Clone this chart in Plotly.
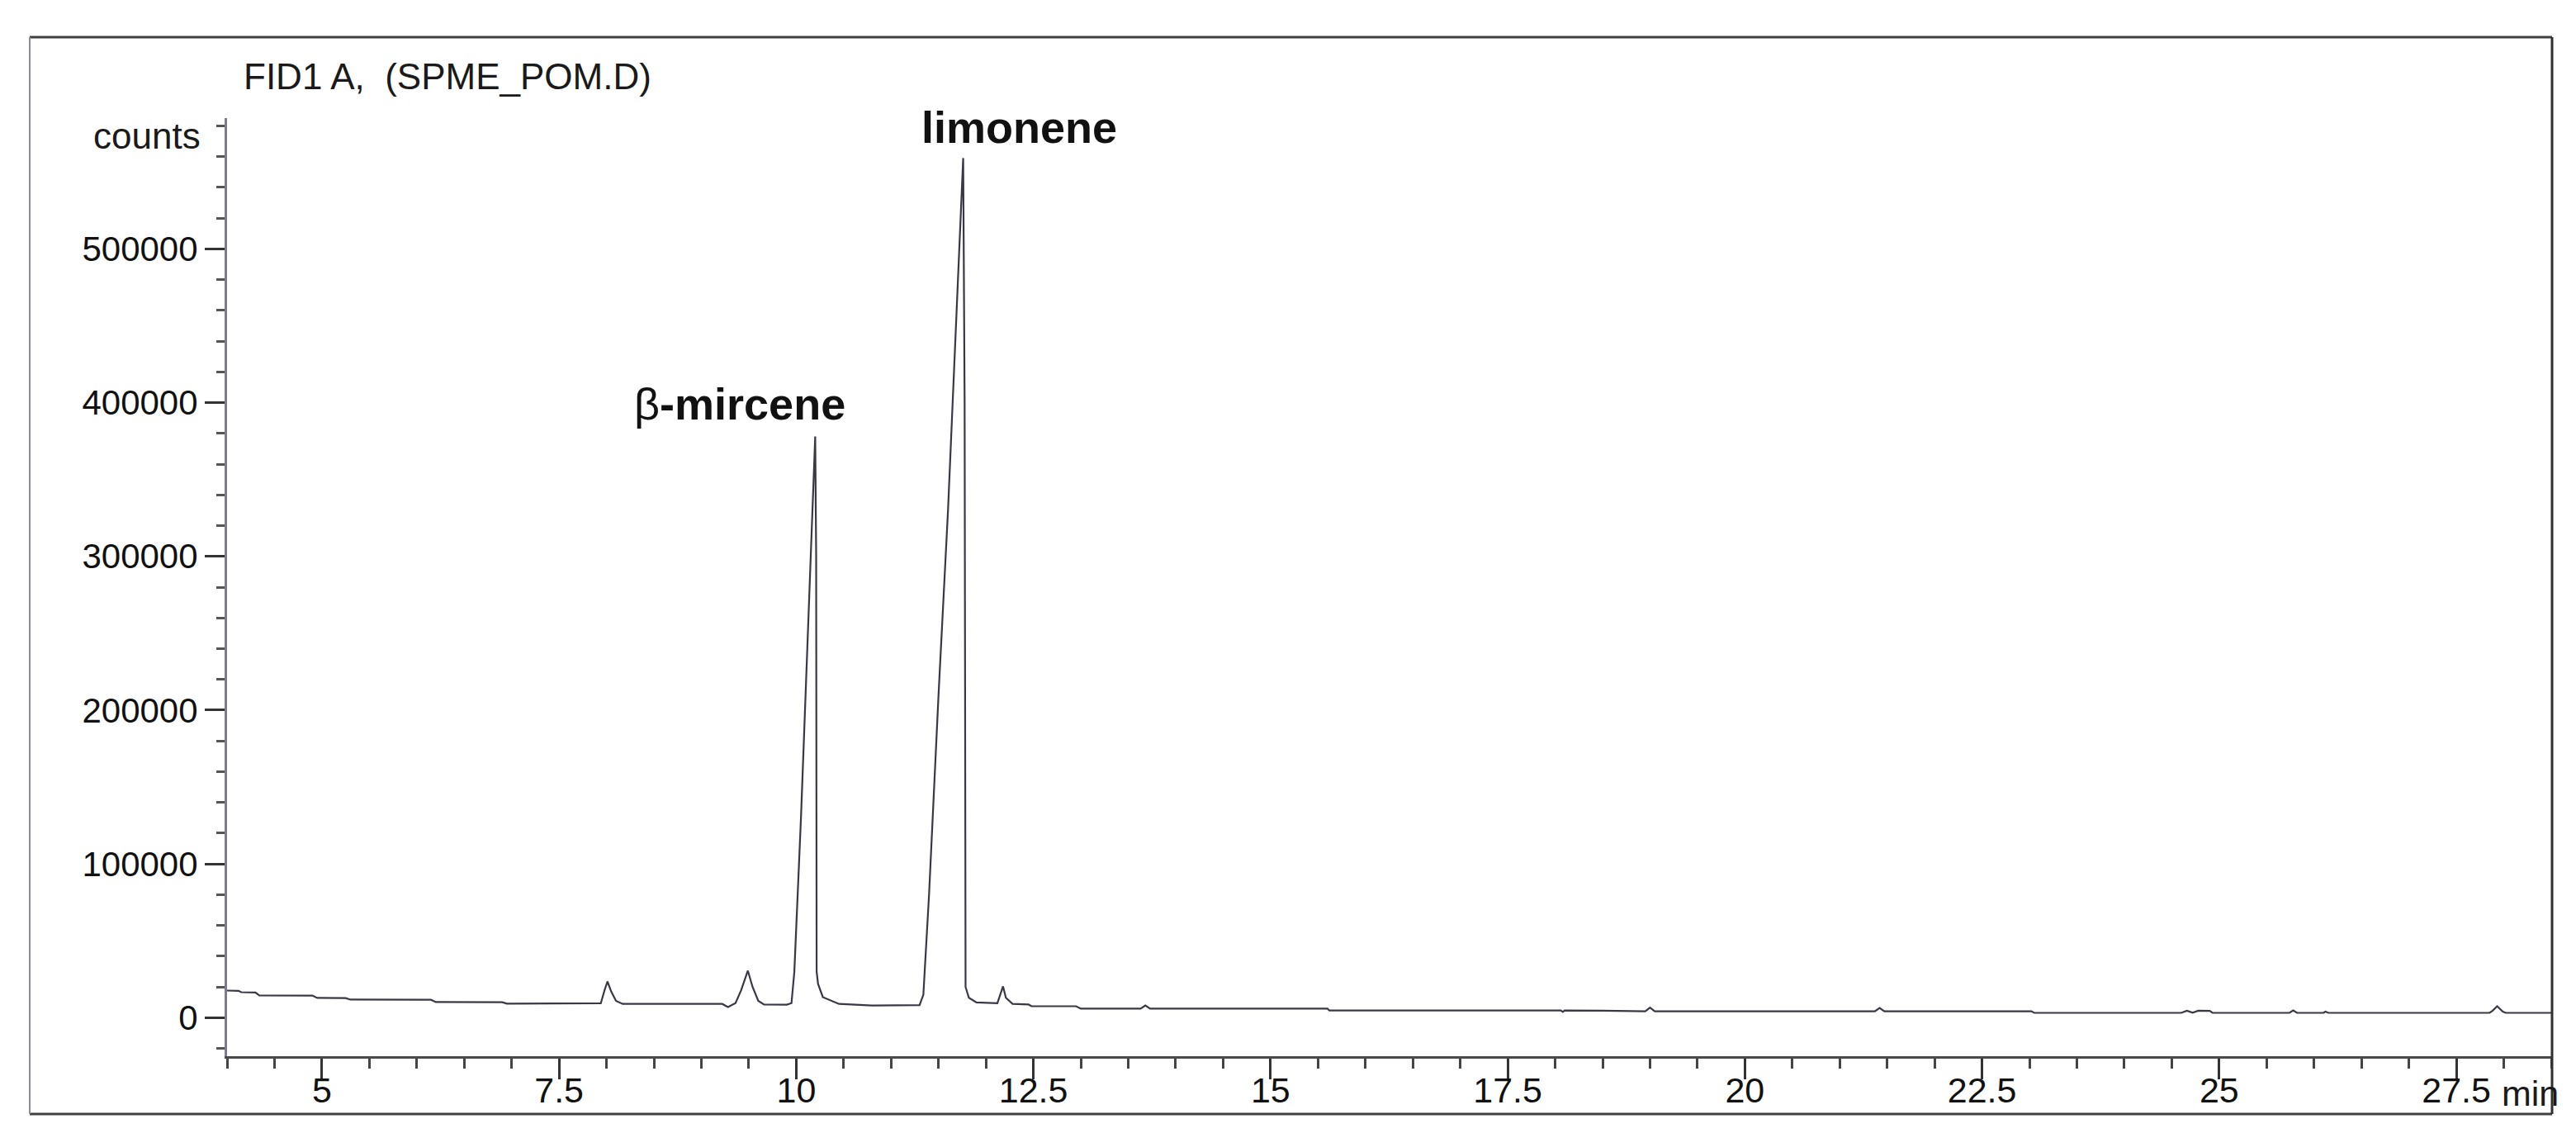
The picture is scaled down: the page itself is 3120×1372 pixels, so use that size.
import plotly.graph_objects as go

# retention time (min) and detector signal (counts)
time_min = [
    4.00, 4.12, 4.15, 4.30, 4.34, 4.90, 4.95, 5.25, 5.30, 6.15, 6.20, 6.90, 6.95,
    7.90, 7.94, 7.98, 8.01, 8.05, 8.10, 8.17, 9.22, 9.28, 9.36, 9.42, 9.49, 9.54,
    9.60, 9.66, 9.90, 9.95, 9.98, 10.05, 10.12, 10.17, 10.20, 10.21, 10.215, 10.23,
    10.28, 10.45, 10.80, 11.30, 11.34, 11.40, 11.50, 11.60, 11.68, 11.76, 11.775,
    11.785, 11.82, 11.90, 12.12, 12.15, 12.18, 12.21, 12.28, 12.45, 12.48, 12.95,
    13.00, 13.63, 13.68, 13.73, 15.60, 15.62, 18.06, 18.08, 18.10, 18.50, 18.95,
    19.00, 19.05, 21.37, 21.42, 21.47, 23.02, 23.05, 24.60, 24.66, 24.72, 24.78,
    24.90, 24.93, 25.74, 25.78, 25.82, 26.10, 26.12, 26.15, 27.85, 27.88, 27.93,
    27.99, 28.02, 28.50,
]
counts = [
    17700, 17500, 16600, 16400, 14500, 14400, 12900, 12800, 11800, 11700, 10200, 10100, 9200,
    9100, 9400, 18000, 23600, 17000, 11000, 9000, 9000, 7000, 9500, 18000, 30600, 20000,
    11000, 8600, 8500, 9500, 30000, 130000, 250000, 330000, 378000, 300000, 30000, 22000,
    13400, 9000, 8000, 8200, 15000, 80000, 210000, 330000, 442000, 559000, 400000,
    20000, 13000, 10000, 9500, 15000, 20400, 13000, 9000, 8600, 7500, 7500,
    5900, 5900, 8000, 5900, 5900, 4700, 4700, 3800, 4700, 4600, 4200,
    6600, 4200, 4200, 6400, 4200, 4200, 3200, 3200, 4600, 3300, 4600,
    4500, 3200, 3200, 4800, 3200, 3200, 4000, 3200, 3200, 4500, 7500,
    4000, 3200, 3200,
]

# peak labels
peak_names = ["β<b>-mircene</b>", "<b>limonene</b>"]
peak_label_x = [8.27, 11.30]
peak_label_y = [399000, 579000]

x_ticks = [5, 7.5, 10, 12.5, 15, 17.5, 20, 22.5, 25, 27.5]
y_ticks = [0, 100000, 200000, 300000, 400000, 500000]

W, H = 3120, 1372
L, R, T, B = 267, 38, 135, 101
pw, ph = W - L - R, H - T - B


def px(x):
    return (x - L) / pw


def py(y):
    return (H - B - y) / ph


font = "Liberation Sans, Arial, sans-serif"

fig = go.Figure()
fig.add_trace(go.Scatter(
    x=time_min, y=counts, mode="lines",
    line=dict(color="#3b3845", width=2.2),
    hoverinfo="x+y", showlegend=False,
))

for name, lx, ly in zip(peak_names, peak_label_x, peak_label_y):
    fig.add_annotation(x=lx, y=ly, text=name, showarrow=False,
                       xanchor="left", yanchor="middle",
                       font=dict(family=font, size=54, color="#111111"))

# header texts
fig.add_annotation(xref="paper", yref="paper", x=px(285), y=py(84),
                   text="FID1 A,&nbsp; (SPME_POM.D)", showarrow=False,
                   xanchor="left", yanchor="middle",
                   font=dict(family=font, size=44, color="#1a1a1a"))
fig.add_annotation(xref="paper", yref="paper", x=px(237), y=py(156),
                   text="counts", showarrow=False,
                   xanchor="right", yanchor="middle",
                   font=dict(family=font, size=44, color="#1a1a1a"))
fig.add_annotation(xref="paper", yref="paper", x=px(3020), y=py(1316),
                   text="min", showarrow=False,
                   xanchor="left", yanchor="middle",
                   font=dict(family=font, size=43, color="#1a1a1a"))

# outer frame
frame = dict(xref="paper", yref="paper", type="line")
fig.add_shape(**frame, x0=px(28), x1=px(3083), y0=py(37), y1=py(37),
              line=dict(color="#404040", width=3))
fig.add_shape(**frame, x0=px(28), x1=px(3083), y0=py(1341), y1=py(1341),
              line=dict(color="#404040", width=3))
fig.add_shape(**frame, x0=px(3083), x1=px(3083), y0=py(37), y1=py(1341),
              line=dict(color="#303030", width=3))
fig.add_shape(**frame, x0=px(28), x1=px(28), y0=py(37), y1=py(1341),
              line=dict(color="#8c8ca0", width=2))

fig.update_layout(
    width=W, height=H, autosize=False,
    margin=dict(l=L, r=R, t=T, b=B),
    paper_bgcolor="white", plot_bgcolor="white",
    font=dict(family=font, size=43, color="#1a1a1a"),
    showlegend=False,
)
fig.update_xaxes(
    range=[4, 28.5], tickvals=x_ticks, ticktext=[("%g" % v) for v in x_ticks],
    ticks="outside", ticklen=25, tickwidth=3, tickcolor="#333333",
    minor=dict(dtick=0.5, tick0=0, ticks="outside", ticklen=12, tickwidth=3,
               tickcolor="#444444"),
    showline=True, linecolor="#4a4a4a", linewidth=3,
    showgrid=False, zeroline=False, ticklabelstandoff=-24,
    tickfont=dict(family=font, size=43, color="#111111"),
)
fig.update_yaxes(
    range=[-25000, 585000], tickvals=y_ticks, ticktext=[str(v) for v in y_ticks],
    ticks="outside", ticklen=24, tickwidth=3, tickcolor="#333333",
    minor=dict(dtick=20000, tick0=0, ticks="outside", ticklen=10, tickwidth=3,
               tickcolor="#555555"),
    showline=True, linecolor="#7a7a90", linewidth=3,
    showgrid=False, zeroline=False,
    tickfont=dict(family=font, size=42, color="#111111"),
)

fig.write_html("out.html")
